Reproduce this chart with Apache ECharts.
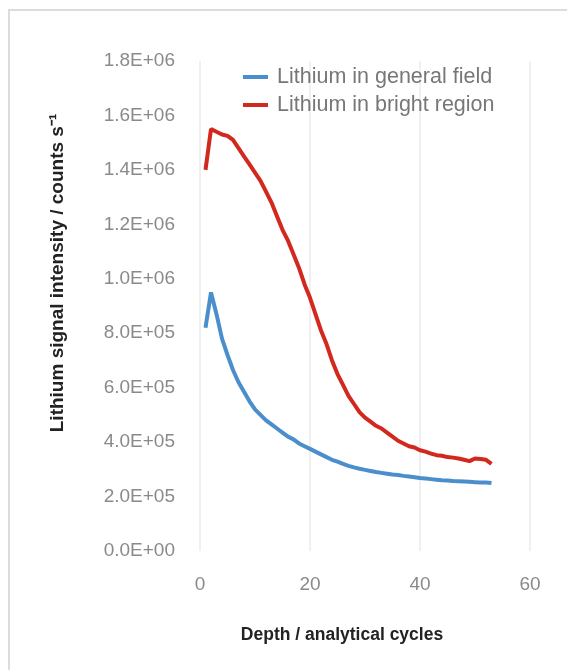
<!DOCTYPE html>
<html>
<head>
<meta charset="utf-8">
<script src="https://cdn.jsdelivr.net/npm/echarts@6/dist/echarts.min.js"></script>
<style>
html,body{margin:0;padding:0;background:#fff;}
#c{width:567px;height:670px;}
</style>
</head>
<body>
<div id="c"></div>
<script>
var cycles = [];
for (var i = 1; i <= 53; i++) cycles.push(i);

var generalField = [
  0.82e6, 0.95e6, 0.87e6, 0.78e6, 0.72e6, 0.665e6, 0.62e6, 0.585e6, 0.55e6, 0.52e6,
  0.50e6, 0.48e6, 0.465e6, 0.45e6, 0.435e6, 0.42e6, 0.41e6, 0.395e6, 0.385e6, 0.375e6,
  0.365e6, 0.355e6, 0.345e6, 0.335e6, 0.328e6, 0.32e6, 0.313e6, 0.307e6, 0.302e6, 0.298e6,
  0.294e6, 0.29e6, 0.287e6, 0.284e6, 0.281e6, 0.279e6, 0.276e6, 0.274e6, 0.271e6, 0.268e6,
  0.266e6, 0.264e6, 0.262e6, 0.26e6, 0.259e6, 0.257e6, 0.256e6, 0.255e6, 0.254e6, 0.253e6,
  0.252e6, 0.252e6, 0.25e6
];

var brightRegion = [
  1.40e6, 1.55e6, 1.54e6, 1.53e6, 1.525e6, 1.51e6, 1.48e6, 1.45e6, 1.42e6, 1.39e6,
  1.36e6, 1.32e6, 1.28e6, 1.23e6, 1.18e6, 1.14e6, 1.09e6, 1.04e6, 0.98e6, 0.93e6,
  0.87e6, 0.81e6, 0.76e6, 0.70e6, 0.65e6, 0.61e6, 0.57e6, 0.54e6, 0.51e6, 0.49e6,
  0.475e6, 0.46e6, 0.45e6, 0.435e6, 0.42e6, 0.405e6, 0.395e6, 0.385e6, 0.38e6, 0.37e6,
  0.365e6, 0.358e6, 0.352e6, 0.35e6, 0.345e6, 0.343e6, 0.34e6, 0.335e6, 0.33e6, 0.34e6,
  0.338e6, 0.335e6, 0.32e6
];

var seriesNames = ['Lithium in general field', 'Lithium in bright region'];
var xTitle = 'Depth / analytical cycles';
var yTitle = 'Lithium signal intensity / counts s\u207B\u00B9';

function pairs(xs, ys) {
  return xs.map(function (x, i) { return [x, ys[i]]; });
}
function sci(v) {
  if (v === 0) return '0.0E+00';
  var e = Math.floor(Math.log10(Math.abs(v)) + 1e-9);
  var m = v / Math.pow(10, e);
  var es = (e < 0 ? '-' : '+') + (Math.abs(e) < 10 ? '0' : '') + Math.abs(e);
  return m.toFixed(1) + 'E' + es;
}

var chart = echarts.init(document.getElementById('c'), null, {renderer: 'canvas'});
chart.setOption({
  animation: false,
  backgroundColor: '#ffffff',
  graphic: [
    {
      type: 'rect',
      shape: {x: 9, y: 10, width: 620, height: 720},
      style: {fill: 'none', stroke: '#dcdcdc', lineWidth: 2},
      silent: true
    },
    {
      type: 'text',
      x: 58, y: 273,
      rotation: Math.PI / 2,
      style: {
        text: yTitle,
        fontFamily: 'Liberation Sans', fontWeight: 'bold', fontSize: 19,
        fill: '#222222', textAlign: 'center', textVerticalAlign: 'middle'
      },
      silent: true
    },
    {
      type: 'text',
      x: 342, y: 635,
      style: {
        text: xTitle,
        fontFamily: 'Liberation Sans', fontWeight: 'bold', fontSize: 17.5,
        fill: '#222222', textAlign: 'center', textVerticalAlign: 'middle'
      },
      silent: true
    }
  ],
  grid: {left: 200, right: 37, top: 61, bottom: 119, containLabel: false},
  legend: {
    orient: 'vertical',
    left: 238,
    top: 58,
    itemWidth: 25,
    itemHeight: 4,
    itemGap: 0,
    icon: 'rect',
    textStyle: {fontFamily: 'Liberation Sans', fontSize: 21.5, color: '#777777', lineHeight: 28, padding: [0, 0, 0, 4]},
    data: seriesNames
  },
  xAxis: {
    type: 'value',
    min: 0, max: 60, interval: 20,
    axisLine: {show: false},
    axisTick: {show: false},
    axisLabel: {fontFamily: 'Liberation Sans', fontSize: 19, color: '#8a8a8a', margin: 24},
    splitLine: {show: true, lineStyle: {color: '#f0f0f0', width: 2}}
  },
  yAxis: {
    type: 'value',
    min: 0, max: 1.8e6, interval: 2e5,
    axisLine: {show: false},
    axisTick: {show: false},
    axisLabel: {fontFamily: 'Liberation Sans', fontSize: 19, color: '#8a8a8a', margin: 25, formatter: sci},
    splitLine: {show: false}
  },
  series: [
    {
      name: seriesNames[0], type: 'line', showSymbol: false, symbol: 'none',
      data: pairs(cycles, generalField),
      lineStyle: {color: '#4a8fcc', width: 4},
      itemStyle: {color: '#4a8fcc'}
    },
    {
      name: seriesNames[1], type: 'line', showSymbol: false, symbol: 'none',
      data: pairs(cycles, brightRegion),
      lineStyle: {color: '#d2281e', width: 4},
      itemStyle: {color: '#d2281e'}
    }
  ]
});
</script>
</body>
</html>
